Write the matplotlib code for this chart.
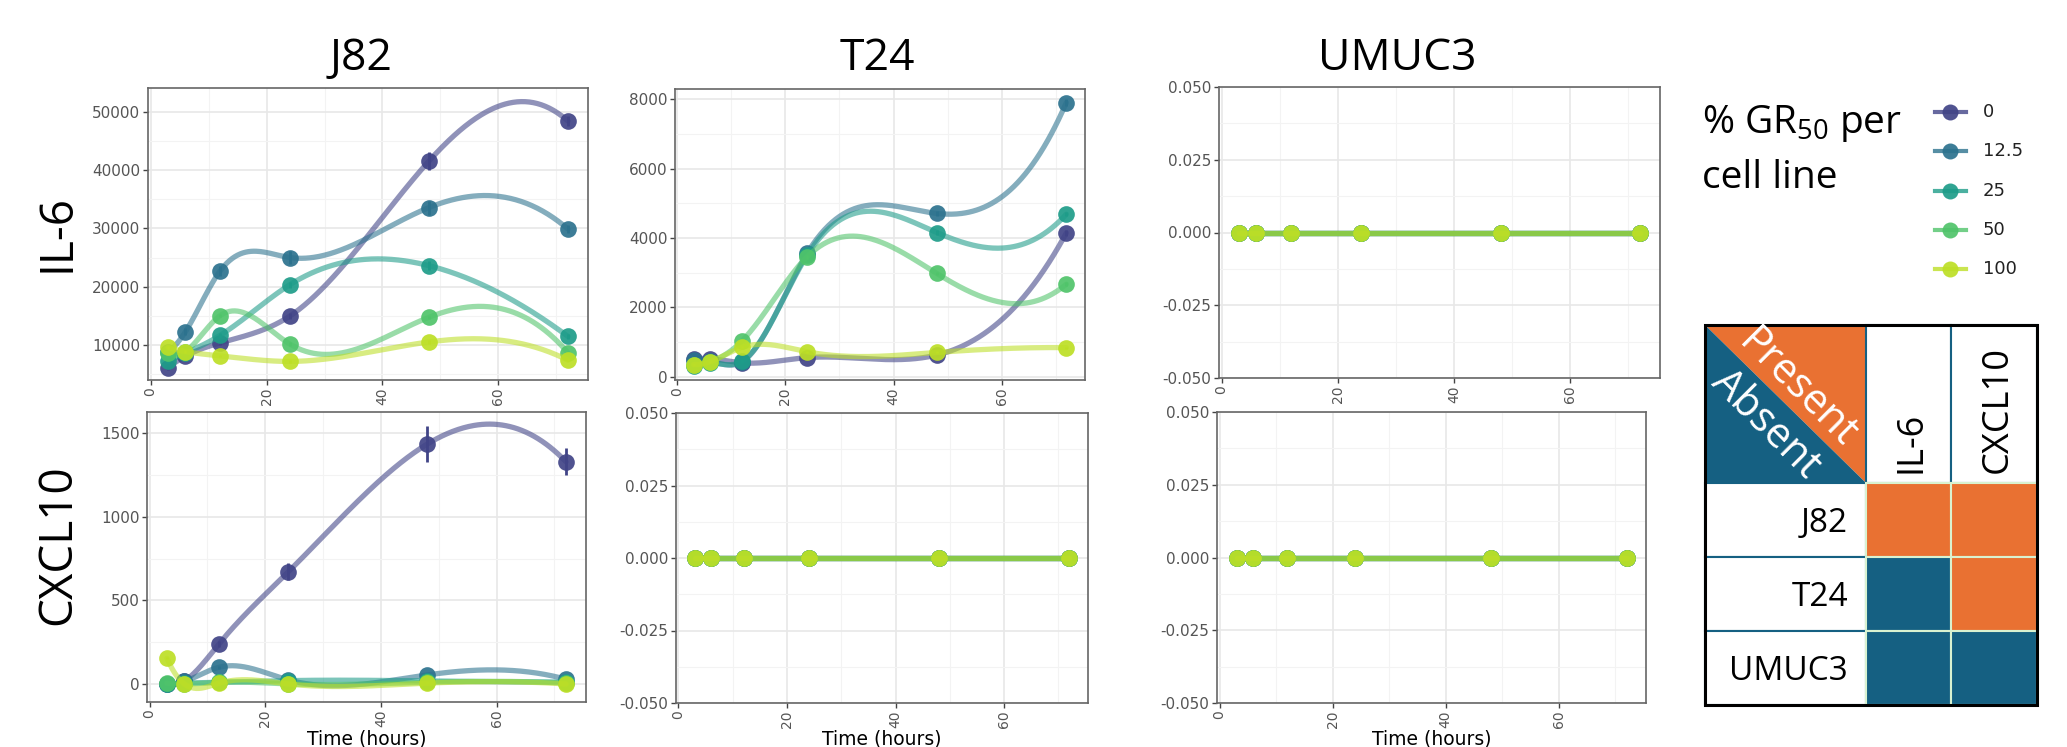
import matplotlib
matplotlib.use('Agg')
import matplotlib.pyplot as plt
import numpy as np
from matplotlib.patches import Polygon, Rectangle

W, H = 2067, 747
DPI = 100

plt.rcParams['axes.unicode_minus'] = False
plt.rcParams['mathtext.fontset'] = 'custom'
plt.rcParams['mathtext.rm'] = 'Open Sans'

# ---- data ----
time_h = [3, 6, 12, 24, 48, 72]
gr50_levels = ['0', '12.5', '25', '50', '100']
cell_lines = ['J82', 'T24', 'UMUC3']
cytokines = ['IL-6', 'CXCL10']

# one row per % GR50 level (0, 12.5, 25, 50, 100)
j82_il6 = [[6000, 8000, 10300, 14900, 41600, 48500],
           [8800, 12200, 22700, 25000, 33600, 29900],
           [7100, 8500, 11600, 20300, 23600, 11400],
           [8500, 8800, 15000, 10100, 14700, 8600],
           [9500, 8800, 8050, 7100, 10450, 7300]]
j82_il6_err = [[300, 300, 400, 500, 1500, 900],
               [300, 600, 900, 1100, 1200, 700],
               [200, 300, 400, 500, 800, 500],
               [200, 200, 300, 300, 300, 300],
               [200, 200, 200, 200, 300, 200]]

t24_il6 = [[510, 520, 400, 550, 625, 4150],
           [480, 450, 430, 3560, 4710, 7910],
           [300, 400, 450, 3500, 4160, 4690],
           [350, 430, 1040, 3460, 2980, 2670],
           [350, 430, 850, 720, 700, 840]]
t24_il6_err = [[30, 30, 30, 40, 50, 80],
               [30, 30, 30, 80, 80, 100],
               [20, 30, 30, 80, 60, 60],
               [20, 30, 40, 60, 50, 50],
               [20, 20, 30, 30, 30, 30]]

j82_cxcl10 = [[0, 18, 240, 672, 1436, 1330],
              [0, 15, 100, 24, 54, 28],
              [0, 5, 10, 20, 18, 12],
              [5, 0, 10, 0, 10, 5],
              [154, 0, 5, 0, 5, 0]]
j82_cxcl10_err = [[2, 5, 20, 50, 110, 80],
                  [2, 3, 8, 5, 8, 5],
                  [1, 2, 3, 3, 3, 3],
                  [1, 1, 2, 1, 2, 1],
                  [5, 1, 1, 1, 1, 1]]

zero_series = [[0, 0, 0, 0, 0, 0]] * 5
zero_err = [[0, 0, 0, 0, 0, 0]] * 5

# presence table: rows = cell lines, cols = cytokines
present = [[1, 1],
           [0, 1],
           [0, 0]]

colors = [plt.cm.viridis(v) for v in [0.2, 0.375, 0.55, 0.725, 0.9]]
ORANGE = '#E97132'
BLUE = '#156082'
GRIDGREEN = '#D9F2D0'


def fmm_spline(x, y, n=300):
    # cubic spline with Forsythe-Malcolm-Moler end conditions (R's spline() default)
    x = np.asarray(x, float)
    y = np.asarray(y, float)
    k = len(x)
    nm1 = k - 1
    b = np.zeros(k)
    c = np.zeros(k)
    d = np.zeros(k)
    d[0] = x[1] - x[0]
    c[1] = (y[1] - y[0]) / d[0]
    for i in range(1, nm1):
        d[i] = x[i + 1] - x[i]
        b[i] = 2.0 * (d[i - 1] + d[i])
        c[i + 1] = (y[i + 1] - y[i]) / d[i]
        c[i] = c[i + 1] - c[i]
    b[0] = -d[0]
    b[nm1] = -d[k - 2]
    c[0] = c[nm1] = 0.0
    if k > 3:
        c[0] = c[2] / (x[3] - x[1]) - c[1] / (x[2] - x[0])
        c[nm1] = c[k - 2] / (x[nm1] - x[k - 3]) - c[k - 3] / (x[k - 2] - x[k - 4])
        c[0] = c[0] * d[0] * d[0] / (x[3] - x[0])
        c[nm1] = -c[nm1] * d[k - 2] * d[k - 2] / (x[nm1] - x[k - 4])
    for i in range(1, k):
        t = d[i - 1] / b[i - 1]
        b[i] = b[i] - t * d[i - 1]
        c[i] = c[i] - t * c[i - 1]
    c[nm1] = c[nm1] / b[nm1]
    for i in range(k - 2, -1, -1):
        c[i] = (c[i] - d[i] * c[i + 1]) / b[i]
    b[nm1] = (y[nm1] - y[k - 2]) / d[k - 2] + d[k - 2] * (c[k - 2] + 2.0 * c[nm1])
    for i in range(nm1):
        b[i] = (y[i + 1] - y[i]) / d[i] - d[i] * (c[i + 1] + 2.0 * c[i])
        d[i] = (c[i + 1] - c[i]) / d[i]
        c[i] = 3.0 * c[i]
    c[nm1] = 3.0 * c[nm1]
    d[nm1] = d[k - 2]
    xs = np.linspace(x[0], x[-1], n)
    idx = np.clip(np.searchsorted(x, xs, side='right') - 1, 0, nm1)
    dx = xs - x[idx]
    return xs, y[idx] + dx * (b[idx] + dx * (c[idx] + dx * d[idx]))


def px_axes(fig, x0, y0, x1, y1):
    return fig.add_axes([x0 / W, 1 - y1 / H, (x1 - x0) / W, (y1 - y0) / H])


def draw_panel(ax, series, errs, ylim, yticks, yminor, yfmt):
    for i, (vals, err) in enumerate(zip(series, errs)):
        xs, ys = fmm_spline(time_h, vals)
        ax.plot(xs, ys, color=colors[i], lw=3.8, alpha=0.58, solid_capstyle='round', zorder=2 + i)
        ax.errorbar(time_h, vals, yerr=err, fmt='none', ecolor=colors[i], elinewidth=2, zorder=3 + i)
        ax.plot(time_h, vals, 'o', color=colors[i], ms=12, mew=0, alpha=0.92, zorder=3 + i)
    ax.set_xlim(-0.45, 75.45)
    ax.set_ylim(*ylim)
    ax.set_xticks([0, 20, 40, 60])
    ax.set_xticks([10, 30, 50, 70], minor=True)
    ax.set_yticks(yticks)
    ax.set_yticks(yminor, minor=True)
    ax.set_yticklabels([yfmt % v for v in yticks])
    ax.grid(which='major', color='#e8e8e8', lw=1.2)
    ax.grid(which='minor', color='#f3f3f3', lw=0.8)
    ax.set_axisbelow(True)
    ax.tick_params(axis='both', which='major', direction='out', length=3.5, width=1,
                   color='#444444', labelcolor='#555555', pad=2)
    ax.tick_params(axis='y', labelsize=11)
    ax.tick_params(axis='x', labelsize=10)
    ax.tick_params(which='minor', length=0)
    for lab in ax.get_xticklabels():
        lab.set_rotation(90)
    for s in ax.spines.values():
        s.set_color('#666666')
        s.set_linewidth(1.2)


fig = plt.figure(figsize=(W / DPI, H / DPI), dpi=DPI)

zero_ticks = [-0.05, -0.025, 0, 0.025, 0.05]
zero_minor = [-0.0375, -0.0125, 0.0125, 0.0375]

ax = px_axes(fig, 148, 88, 588, 380)
draw_panel(ax, j82_il6, j82_il6_err, (3900, 54200),
           [10000, 20000, 30000, 40000, 50000], [5000, 15000, 25000, 35000, 45000], '%d')
ax = px_axes(fig, 675, 89, 1085, 380)
draw_panel(ax, t24_il6, t24_il6_err, (-95, 8300),
           [0, 2000, 4000, 6000, 8000], [1000, 3000, 5000, 7000], '%d')
ax = px_axes(fig, 1219, 87, 1660, 378)
draw_panel(ax, zero_series, zero_err, (-0.05, 0.05), zero_ticks, zero_minor, '%.3f')
ax = px_axes(fig, 147, 412, 586, 702)
draw_panel(ax, j82_cxcl10, j82_cxcl10_err, (-108, 1628),
           [0, 500, 1000, 1500], [250, 750, 1250], '%d')
ax = px_axes(fig, 676, 413, 1088, 703)
draw_panel(ax, zero_series, zero_err, (-0.05, 0.05), zero_ticks, zero_minor, '%.3f')
ax = px_axes(fig, 1217, 412, 1646, 703)
draw_panel(ax, zero_series, zero_err, (-0.05, 0.05), zero_ticks, zero_minor, '%.3f')

# overlay in pixel coordinates for titles, legend and table
ov = fig.add_axes([0, 0, 1, 1], zorder=-1)
ov.set_xlim(0, W)
ov.set_ylim(H, 0)
ov.axis('off')

SANS = 'Open Sans'
for name, xc in zip(cell_lines, [361, 877, 1397]):
    ov.text(xc, 70, name, fontsize=32, family=SANS, ha='center', va='baseline')
for name, yc in zip(cytokines, [233, 545]):
    ov.text(70, yc, name, fontsize=33, family=SANS, rotation=90, rotation_mode='anchor',
            ha='center', va='baseline')
for xc in [367, 882, 1432]:
    ov.text(xc, 739, 'Time (hours)', fontsize=13.5, ha='center', va='center')

# legend
ov.text(1702, 133, r'% GR$_{\mathregular{50}}$ per', fontsize=28, family=SANS, va='baseline')
ov.text(1702, 188, 'cell line', fontsize=28, family=SANS, va='baseline')
for i, (lev, yc) in enumerate(zip(gr50_levels, [112, 151, 191, 230, 269])):
    ov.plot([1935, 1966], [yc, yc], color=colors[i], lw=3, alpha=0.8)
    ov.plot([1950], [yc], 'o', color=colors[i], ms=11.5, mew=0, alpha=0.92)
    ov.text(1983, yc, lev, fontsize=13, va='center', color='#222222')

# presence table
tx0, tx1, tx2, tx3 = 1705, 1866, 1951, 2037
ty = [325, 483, 557, 631, 705]
ov.add_patch(Polygon([(tx0, ty[0]), (tx1, ty[0]), (tx1, ty[1])], closed=True, fc=ORANGE, ec='none'))
ov.add_patch(Polygon([(tx0, ty[0]), (tx0, ty[1]), (tx1, ty[1])], closed=True, fc=BLUE, ec='none'))
ov.text(1797, 389, 'Present', fontsize=30, family=SANS, color='white', rotation=-45,
        rotation_mode='anchor', ha='center', va='center')
ov.text(1766, 424, 'Absent', fontsize=30, family=SANS, color='white', rotation=-45,
        rotation_mode='anchor', ha='center', va='center')
col_x = [tx1, tx2, tx3]
for j, cyt in enumerate(cytokines):
    ov.add_patch(Rectangle((col_x[j], ty[0]), col_x[j + 1] - col_x[j], ty[1] - ty[0],
                           fc='white', ec=BLUE, lw=1.5))
    ov.text(col_x[j + 1] - 30, 473, cyt, fontsize=26, family=SANS, rotation=90,
            rotation_mode='anchor', ha='left', va='baseline')
for i, cl in enumerate(cell_lines):
    ov.add_patch(Rectangle((tx0, ty[i + 1]), tx1 - tx0, ty[i + 2] - ty[i + 1],
                           fc='white', ec=BLUE, lw=1.5))
    ov.text(1848, ty[i + 2] - 25, cl, fontsize=24, family=SANS, ha='right', va='baseline')
    for j in range(len(cytokines)):
        ov.add_patch(Rectangle((col_x[j], ty[i + 1]), col_x[j + 1] - col_x[j], ty[i + 2] - ty[i + 1],
                               fc=ORANGE if present[i][j] else BLUE, ec=GRIDGREEN, lw=1.5))
ov.add_patch(Rectangle((tx0, ty[0]), tx3 - tx0, ty[-1] - ty[0], fc='none', ec='black', lw=2.2))

fig.savefig('out.png', dpi=DPI)
